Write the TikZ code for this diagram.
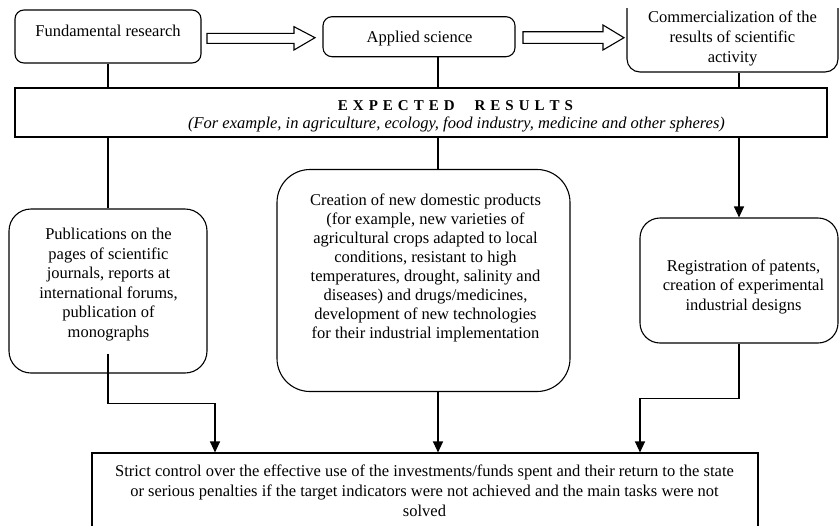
\documentclass[tikz,border=0pt]{standalone}
\usepackage{fontspec}
\setmainfont{Liberation Serif}
\usetikzlibrary{arrows.meta}
\begin{document}
\begin{tikzpicture}[x=1pt,y=-1pt,
  box/.style={draw, line width=1.1pt, rounded corners=#1, inner sep=0pt},
  box/.default=8pt,
  txt/.style={align=center, inner sep=0pt, font=\fontsize{16.5}{19.5}\selectfont},
  conn/.style={line width=1.1pt},
  arr/.style={line width=1.1pt, -{Triangle[length=11pt,width=10pt]}},
  blockarrow/.style={draw, line width=1.1pt, line join=miter}]
\useasboundingbox (0,0) rectangle (840,525);
\clip (0,8) rectangle (840,525);
% top row
\node[box=9pt, minimum width=186pt, minimum height=53pt] (fund) at (108,36.5) {};
\node[txt, anchor=base] (fundt) at (108,36.7) {Fundamental research};
\node[box=9pt, minimum width=192pt, minimum height=40pt] (appl) at (419,36.7) {};
\node[txt, anchor=base] (applt) at (419.5,42.7) {Applied science};
\node[box=13pt, minimum width=211pt, minimum height=84pt] (comm) at (732.5,30) {};
\node[txt, font=\fontsize{16.5}{20}\selectfont] (commt) at (732.5,38.5) {Commercialization of the\\results of scientific\\activity};
% block arrows
\draw[blockarrow] (207,33.3) -- (294,33.3) -- (294,26.7) -- (315,37.7) -- (294,50) -- (294,43.3) -- (207,43.3) -- cycle;
\draw[blockarrow] (523,31.7) -- (603,31.7) -- (603,25) -- (624,37.7) -- (603,50) -- (603,43.3) -- (523,43.3) -- cycle;
% expected results
\node[draw, line width=1.1pt, minimum width=812pt, minimum height=49pt, inner sep=0pt] (exp) at (421,112.5) {};
\node[inner sep=0pt, anchor=base, font=\fontsize{15}{18}\selectfont\bfseries] (expt) at (455.5,110) {E\,\,X\,\,P\,\,E\,\,C\,\,T\,\,E\,\,D\quad\,\,R\,\,E\,\,S\,\,U\,\,L\,\,T\,\,S};
\node[inner sep=0pt, anchor=base, font=\fontsize{16.5}{19}\selectfont\itshape] (exps) at (456.5,128.5) {(For example, in agriculture, ecology, food industry, medicine and other spheres)};
% middle row
\node[box=22pt, minimum width=198pt, minimum height=164pt] (pub) at (108,291) {};
\node[txt] (pubt) at (108.5,284.6) {Publications on the\\pages of scientific\\journals, reports at\\international forums,\\publication of\\monographs};
\node[box=33pt, minimum width=293pt, minimum height=222pt] (crea) at (423.5,280.5) {};
\node[txt, font=\fontsize{16.5}{19}\selectfont] (creat) at (425.5,267.8) {Creation of new domestic products\\(for example, new varieties of\\agricultural crops adapted to local\\conditions, resistant to high\\temperatures, drought, salinity and\\diseases) and drugs/medicines,\\development of new technologies\\for their industrial implementation};
\node[box=20pt, minimum width=198pt, minimum height=125pt] (reg) at (739,280.5) {};
\node[txt] (regt) at (743.5,286.5) {Registration of patents,\\creation of experimental\\industrial designs};
% bottom box
\node[draw, line width=1.1pt, minimum width=666pt, minimum height=90pt, inner sep=0pt] (bot) at (425,498) {};
\node[txt, font=\fontsize{16.5}{20}\selectfont] (bott) at (424.5,490.4) {Strict control over the effective use of the investments/funds spent and their return to the state\\or serious penalties if the target indicators were not achieved and the main tasks were not\\solved};
% helper columns
\coordinate (mid) at (438,0);
\coordinate (la) at (215,0);
\coordinate (ra) at (640,0);
% connectors
\draw[conn] (fund.south) -- (fund.south |- exp.north);
\draw[conn] (appl.south -| mid) -- (exp.north -| mid);
\draw[conn] (comm.south -| reg.north) -- (exp.north -| reg.north);
\draw[conn] (exp.south -| pub.north) -- (pub.north);
\draw[conn] (exp.south -| mid) -- (crea.north -| mid);
\draw[arr] (exp.south -| reg.north) -- (reg.north);
\draw[arr] ([yshift=20pt]pub.south) -- ++(0,50) -| (bot.north -| la);
\draw[arr] (crea.south -| mid) -- (bot.north -| mid);
\draw[arr] (reg.south) -- ++(0,55) -| (bot.north -| ra);
\end{tikzpicture}
\end{document}
